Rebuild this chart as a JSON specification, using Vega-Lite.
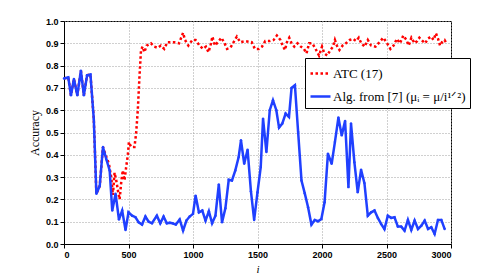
{
  "$schema": "https://vega.github.io/schema/vega-lite/v6.json",
  "width": 387,
  "height": 223,
  "autosize": {"type": "none"},
  "padding": {"left": 64, "top": 21, "right": 47, "bottom": 31},
  "background": "white",
  "config": {
    "view": {"stroke": "black", "strokeWidth": 1},
    "axis": {
      "domainColor": "black",
      "tickSize": 4,
      "tickColor": "black",
      "labelFont": "Liberation Sans",
      "labelFontSize": 9,
      "labelFontWeight": "bold",
      "labelColor": "black",
      "titleFont": "Liberation Serif",
      "titleFontWeight": "normal",
      "titleColor": "black"
    }
  },
  "datasets": {
    "atc": [
      {"i": 0, "acc": 0.742, "series": "ATC (17)"},
      {"i": 33, "acc": 0.747, "series": "ATC (17)"},
      {"i": 54, "acc": 0.667, "series": "ATC (17)"},
      {"i": 77, "acc": 0.74, "series": "ATC (17)"},
      {"i": 103, "acc": 0.667, "series": "ATC (17)"},
      {"i": 131, "acc": 0.777, "series": "ATC (17)"},
      {"i": 154, "acc": 0.667, "series": "ATC (17)"},
      {"i": 179, "acc": 0.757, "series": "ATC (17)"},
      {"i": 205, "acc": 0.76, "series": "ATC (17)"},
      {"i": 231, "acc": 0.56, "series": "ATC (17)"},
      {"i": 251, "acc": 0.225, "series": "ATC (17)"},
      {"i": 277, "acc": 0.26, "series": "ATC (17)"},
      {"i": 302, "acc": 0.435, "series": "ATC (17)"},
      {"i": 328, "acc": 0.39, "series": "ATC (17)"},
      {"i": 348, "acc": 0.36, "series": "ATC (17)"},
      {"i": 366, "acc": 0.3, "series": "ATC (17)"},
      {"i": 379, "acc": 0.22, "series": "ATC (17)"},
      {"i": 392, "acc": 0.32, "series": "ATC (17)"},
      {"i": 405, "acc": 0.285, "series": "ATC (17)"},
      {"i": 418, "acc": 0.24, "series": "ATC (17)"},
      {"i": 431, "acc": 0.2, "series": "ATC (17)"},
      {"i": 444, "acc": 0.28, "series": "ATC (17)"},
      {"i": 456, "acc": 0.33, "series": "ATC (17)"},
      {"i": 469, "acc": 0.285, "series": "ATC (17)"},
      {"i": 482, "acc": 0.345, "series": "ATC (17)"},
      {"i": 495, "acc": 0.4, "series": "ATC (17)"},
      {"i": 503, "acc": 0.457, "series": "ATC (17)"},
      {"i": 520, "acc": 0.435, "series": "ATC (17)"},
      {"i": 546, "acc": 0.435, "series": "ATC (17)"},
      {"i": 559, "acc": 0.495, "series": "ATC (17)"},
      {"i": 572, "acc": 0.6, "series": "ATC (17)"},
      {"i": 585, "acc": 0.75, "series": "ATC (17)"},
      {"i": 597, "acc": 0.87, "series": "ATC (17)"},
      {"i": 610, "acc": 0.885, "series": "ATC (17)"},
      {"i": 623, "acc": 0.86, "series": "ATC (17)"},
      {"i": 641, "acc": 0.89, "series": "ATC (17)"},
      {"i": 674, "acc": 0.9, "series": "ATC (17)"},
      {"i": 700, "acc": 0.885, "series": "ATC (17)"},
      {"i": 726, "acc": 0.88, "series": "ATC (17)"},
      {"i": 751, "acc": 0.89, "series": "ATC (17)"},
      {"i": 777, "acc": 0.875, "series": "ATC (17)"},
      {"i": 802, "acc": 0.905, "series": "ATC (17)"},
      {"i": 854, "acc": 0.905, "series": "ATC (17)"},
      {"i": 892, "acc": 0.9, "series": "ATC (17)"},
      {"i": 905, "acc": 0.92, "series": "ATC (17)"},
      {"i": 923, "acc": 0.947, "series": "ATC (17)"},
      {"i": 938, "acc": 0.915, "series": "ATC (17)"},
      {"i": 964, "acc": 0.89, "series": "ATC (17)"},
      {"i": 995, "acc": 0.915, "series": "ATC (17)"},
      {"i": 1020, "acc": 0.915, "series": "ATC (17)"},
      {"i": 1050, "acc": 0.89, "series": "ATC (17)"},
      {"i": 1077, "acc": 0.875, "series": "ATC (17)"},
      {"i": 1100, "acc": 0.885, "series": "ATC (17)"},
      {"i": 1120, "acc": 0.86, "series": "ATC (17)"},
      {"i": 1140, "acc": 0.9, "series": "ATC (17)"},
      {"i": 1150, "acc": 0.93, "series": "ATC (17)"},
      {"i": 1170, "acc": 0.89, "series": "ATC (17)"},
      {"i": 1200, "acc": 0.91, "series": "ATC (17)"},
      {"i": 1220, "acc": 0.925, "series": "ATC (17)"},
      {"i": 1245, "acc": 0.9, "series": "ATC (17)"},
      {"i": 1264, "acc": 0.875, "series": "ATC (17)"},
      {"i": 1290, "acc": 0.88, "series": "ATC (17)"},
      {"i": 1315, "acc": 0.905, "series": "ATC (17)"},
      {"i": 1340, "acc": 0.93, "series": "ATC (17)"},
      {"i": 1366, "acc": 0.905, "series": "ATC (17)"},
      {"i": 1405, "acc": 0.91, "series": "ATC (17)"},
      {"i": 1455, "acc": 0.905, "series": "ATC (17)"},
      {"i": 1480, "acc": 0.875, "series": "ATC (17)"},
      {"i": 1510, "acc": 0.875, "series": "ATC (17)"},
      {"i": 1535, "acc": 0.885, "series": "ATC (17)"},
      {"i": 1560, "acc": 0.91, "series": "ATC (17)"},
      {"i": 1595, "acc": 0.91, "series": "ATC (17)"},
      {"i": 1625, "acc": 0.915, "series": "ATC (17)"},
      {"i": 1650, "acc": 0.935, "series": "ATC (17)"},
      {"i": 1677, "acc": 0.915, "series": "ATC (17)"},
      {"i": 1695, "acc": 0.89, "series": "ATC (17)"},
      {"i": 1713, "acc": 0.87, "series": "ATC (17)"},
      {"i": 1728, "acc": 0.905, "series": "ATC (17)"},
      {"i": 1746, "acc": 0.925, "series": "ATC (17)"},
      {"i": 1764, "acc": 0.9, "series": "ATC (17)"},
      {"i": 1785, "acc": 0.885, "series": "ATC (17)"},
      {"i": 1810, "acc": 0.9, "series": "ATC (17)"},
      {"i": 1836, "acc": 0.885, "series": "ATC (17)"},
      {"i": 1860, "acc": 0.875, "series": "ATC (17)"},
      {"i": 1880, "acc": 0.855, "series": "ATC (17)"},
      {"i": 1900, "acc": 0.9, "series": "ATC (17)"},
      {"i": 1925, "acc": 0.9, "series": "ATC (17)"},
      {"i": 1950, "acc": 0.875, "series": "ATC (17)"},
      {"i": 1977, "acc": 0.845, "series": "ATC (17)"},
      {"i": 2000, "acc": 0.885, "series": "ATC (17)"},
      {"i": 2018, "acc": 0.855, "series": "ATC (17)"},
      {"i": 2040, "acc": 0.845, "series": "ATC (17)"},
      {"i": 2065, "acc": 0.87, "series": "ATC (17)"},
      {"i": 2085, "acc": 0.885, "series": "ATC (17)"},
      {"i": 2100, "acc": 0.915, "series": "ATC (17)"},
      {"i": 2115, "acc": 0.89, "series": "ATC (17)"},
      {"i": 2135, "acc": 0.87, "series": "ATC (17)"},
      {"i": 2160, "acc": 0.89, "series": "ATC (17)"},
      {"i": 2185, "acc": 0.9, "series": "ATC (17)"},
      {"i": 2215, "acc": 0.915, "series": "ATC (17)"},
      {"i": 2240, "acc": 0.92, "series": "ATC (17)"},
      {"i": 2265, "acc": 0.91, "series": "ATC (17)"},
      {"i": 2285, "acc": 0.925, "series": "ATC (17)"},
      {"i": 2305, "acc": 0.9, "series": "ATC (17)"},
      {"i": 2330, "acc": 0.885, "series": "ATC (17)"},
      {"i": 2355, "acc": 0.915, "series": "ATC (17)"},
      {"i": 2380, "acc": 0.89, "series": "ATC (17)"},
      {"i": 2415, "acc": 0.885, "series": "ATC (17)"},
      {"i": 2445, "acc": 0.905, "series": "ATC (17)"},
      {"i": 2475, "acc": 0.925, "series": "ATC (17)"},
      {"i": 2505, "acc": 0.9, "series": "ATC (17)"},
      {"i": 2530, "acc": 0.875, "series": "ATC (17)"},
      {"i": 2555, "acc": 0.89, "series": "ATC (17)"},
      {"i": 2580, "acc": 0.92, "series": "ATC (17)"},
      {"i": 2605, "acc": 0.9, "series": "ATC (17)"},
      {"i": 2630, "acc": 0.935, "series": "ATC (17)"},
      {"i": 2655, "acc": 0.915, "series": "ATC (17)"},
      {"i": 2672, "acc": 0.89, "series": "ATC (17)"},
      {"i": 2693, "acc": 0.925, "series": "ATC (17)"},
      {"i": 2718, "acc": 0.9, "series": "ATC (17)"},
      {"i": 2738, "acc": 0.91, "series": "ATC (17)"},
      {"i": 2755, "acc": 0.925, "series": "ATC (17)"},
      {"i": 2780, "acc": 0.91, "series": "ATC (17)"},
      {"i": 2800, "acc": 0.9, "series": "ATC (17)"},
      {"i": 2820, "acc": 0.92, "series": "ATC (17)"},
      {"i": 2845, "acc": 0.93, "series": "ATC (17)"},
      {"i": 2865, "acc": 0.915, "series": "ATC (17)"},
      {"i": 2883, "acc": 0.945, "series": "ATC (17)"},
      {"i": 2900, "acc": 0.92, "series": "ATC (17)"},
      {"i": 2915, "acc": 0.89, "series": "ATC (17)"},
      {"i": 2935, "acc": 0.91, "series": "ATC (17)"},
      {"i": 2950, "acc": 0.915, "series": "ATC (17)"},
      {"i": 2965, "acc": 0.9, "series": "ATC (17)"}
    ],
    "alg": [
      {"i": 0, "acc": 0.742, "series": "Alg. from [7] (μᵢ = μ/i¹ᐟ²)"}, {"i": 33, "acc": 0.747, "series": "Alg. from [7] (μᵢ = μ/i¹ᐟ²)"},
      {"i": 54, "acc": 0.667, "series": "Alg. from [7] (μᵢ = μ/i¹ᐟ²)"}, {"i": 77, "acc": 0.74, "series": "Alg. from [7] (μᵢ = μ/i¹ᐟ²)"},
      {"i": 103, "acc": 0.667, "series": "Alg. from [7] (μᵢ = μ/i¹ᐟ²)"}, {"i": 131, "acc": 0.777, "series": "Alg. from [7] (μᵢ = μ/i¹ᐟ²)"},
      {"i": 154, "acc": 0.667, "series": "Alg. from [7] (μᵢ = μ/i¹ᐟ²)"}, {"i": 179, "acc": 0.757, "series": "Alg. from [7] (μᵢ = μ/i¹ᐟ²)"},
      {"i": 205, "acc": 0.76, "series": "Alg. from [7] (μᵢ = μ/i¹ᐟ²)"}, {"i": 231, "acc": 0.56, "series": "Alg. from [7] (μᵢ = μ/i¹ᐟ²)"},
      {"i": 251, "acc": 0.225, "series": "Alg. from [7] (μᵢ = μ/i¹ᐟ²)"}, {"i": 277, "acc": 0.26, "series": "Alg. from [7] (μᵢ = μ/i¹ᐟ²)"},
      {"i": 302, "acc": 0.435, "series": "Alg. from [7] (μᵢ = μ/i¹ᐟ²)"}, {"i": 328, "acc": 0.38, "series": "Alg. from [7] (μᵢ = μ/i¹ᐟ²)"},
      {"i": 354, "acc": 0.33, "series": "Alg. from [7] (μᵢ = μ/i¹ᐟ²)"}, {"i": 374, "acc": 0.15, "series": "Alg. from [7] (μᵢ = μ/i¹ᐟ²)"},
      {"i": 400, "acc": 0.225, "series": "Alg. from [7] (μᵢ = μ/i¹ᐟ²)"}, {"i": 426, "acc": 0.11, "series": "Alg. from [7] (μᵢ = μ/i¹ᐟ²)"},
      {"i": 451, "acc": 0.15, "series": "Alg. from [7] (μᵢ = μ/i¹ᐟ²)"}, {"i": 477, "acc": 0.063, "series": "Alg. from [7] (μᵢ = μ/i¹ᐟ²)"},
      {"i": 500, "acc": 0.142, "series": "Alg. from [7] (μᵢ = μ/i¹ᐟ²)"}, {"i": 528, "acc": 0.127, "series": "Alg. from [7] (μᵢ = μ/i¹ᐟ²)"},
      {"i": 554, "acc": 0.12, "series": "Alg. from [7] (μᵢ = μ/i¹ᐟ²)"}, {"i": 579, "acc": 0.097, "series": "Alg. from [7] (μᵢ = μ/i¹ᐟ²)"},
      {"i": 605, "acc": 0.087, "series": "Alg. from [7] (μᵢ = μ/i¹ᐟ²)"}, {"i": 631, "acc": 0.123, "series": "Alg. from [7] (μᵢ = μ/i¹ᐟ²)"},
      {"i": 656, "acc": 0.1, "series": "Alg. from [7] (μᵢ = μ/i¹ᐟ²)"}, {"i": 682, "acc": 0.093, "series": "Alg. from [7] (μᵢ = μ/i¹ᐟ²)"},
      {"i": 720, "acc": 0.127, "series": "Alg. from [7] (μᵢ = μ/i¹ᐟ²)"}, {"i": 746, "acc": 0.093, "series": "Alg. from [7] (μᵢ = μ/i¹ᐟ²)"},
      {"i": 772, "acc": 0.123, "series": "Alg. from [7] (μᵢ = μ/i¹ᐟ²)"}, {"i": 797, "acc": 0.093, "series": "Alg. from [7] (μᵢ = μ/i¹ᐟ²)"},
      {"i": 820, "acc": 0.095, "series": "Alg. from [7] (μᵢ = μ/i¹ᐟ²)"}, {"i": 841, "acc": 0.093, "series": "Alg. from [7] (μᵢ = μ/i¹ᐟ²)"},
      {"i": 867, "acc": 0.087, "series": "Alg. from [7] (μᵢ = μ/i¹ᐟ²)"}, {"i": 897, "acc": 0.11, "series": "Alg. from [7] (μᵢ = μ/i¹ᐟ²)"},
      {"i": 923, "acc": 0.06, "series": "Alg. from [7] (μᵢ = μ/i¹ᐟ²)"}, {"i": 949, "acc": 0.105, "series": "Alg. from [7] (μᵢ = μ/i¹ᐟ²)"},
      {"i": 974, "acc": 0.123, "series": "Alg. from [7] (μᵢ = μ/i¹ᐟ²)"}, {"i": 1000, "acc": 0.135, "series": "Alg. from [7] (μᵢ = μ/i¹ᐟ²)"},
      {"i": 1020, "acc": 0.217, "series": "Alg. from [7] (μᵢ = μ/i¹ᐟ²)"}, {"i": 1046, "acc": 0.142, "series": "Alg. from [7] (μᵢ = μ/i¹ᐟ²)"},
      {"i": 1072, "acc": 0.15, "series": "Alg. from [7] (μᵢ = μ/i¹ᐟ²)"}, {"i": 1097, "acc": 0.105, "series": "Alg. from [7] (μᵢ = μ/i¹ᐟ²)"},
      {"i": 1123, "acc": 0.147, "series": "Alg. from [7] (μᵢ = μ/i¹ᐟ²)"}, {"i": 1148, "acc": 0.093, "series": "Alg. from [7] (μᵢ = μ/i¹ᐟ²)"},
      {"i": 1174, "acc": 0.127, "series": "Alg. from [7] (μᵢ = μ/i¹ᐟ²)"}, {"i": 1200, "acc": 0.267, "series": "Alg. from [7] (μᵢ = μ/i¹ᐟ²)"},
      {"i": 1225, "acc": 0.097, "series": "Alg. from [7] (μᵢ = μ/i¹ᐟ²)"}, {"i": 1251, "acc": 0.16, "series": "Alg. from [7] (μᵢ = μ/i¹ᐟ²)"},
      {"i": 1277, "acc": 0.288, "series": "Alg. from [7] (μᵢ = μ/i¹ᐟ²)"}, {"i": 1302, "acc": 0.285, "series": "Alg. from [7] (μᵢ = μ/i¹ᐟ²)"},
      {"i": 1328, "acc": 0.33, "series": "Alg. from [7] (μᵢ = μ/i¹ᐟ²)"}, {"i": 1354, "acc": 0.39, "series": "Alg. from [7] (μᵢ = μ/i¹ᐟ²)"},
      {"i": 1372, "acc": 0.465, "series": "Alg. from [7] (μᵢ = μ/i¹ᐟ²)"}, {"i": 1397, "acc": 0.36, "series": "Alg. from [7] (μᵢ = μ/i¹ᐟ²)"},
      {"i": 1423, "acc": 0.423, "series": "Alg. from [7] (μᵢ = μ/i¹ᐟ²)"}, {"i": 1449, "acc": 0.237, "series": "Alg. from [7] (μᵢ = μ/i¹ᐟ²)"},
      {"i": 1474, "acc": 0.108, "series": "Alg. from [7] (μᵢ = μ/i¹ᐟ²)"}, {"i": 1500, "acc": 0.232, "series": "Alg. from [7] (μᵢ = μ/i¹ᐟ²)"},
      {"i": 1525, "acc": 0.345, "series": "Alg. from [7] (μᵢ = μ/i¹ᐟ²)"}, {"i": 1543, "acc": 0.562, "series": "Alg. from [7] (μᵢ = μ/i¹ᐟ²)"},
      {"i": 1569, "acc": 0.412, "series": "Alg. from [7] (μᵢ = μ/i¹ᐟ²)"}, {"i": 1595, "acc": 0.6, "series": "Alg. from [7] (μᵢ = μ/i¹ᐟ²)"},
      {"i": 1620, "acc": 0.645, "series": "Alg. from [7] (μᵢ = μ/i¹ᐟ²)"}, {"i": 1646, "acc": 0.6, "series": "Alg. from [7] (μᵢ = μ/i¹ᐟ²)"},
      {"i": 1667, "acc": 0.522, "series": "Alg. from [7] (μᵢ = μ/i¹ᐟ²)"}, {"i": 1692, "acc": 0.54, "series": "Alg. from [7] (μᵢ = μ/i¹ᐟ²)"},
      {"i": 1718, "acc": 0.585, "series": "Alg. from [7] (μᵢ = μ/i¹ᐟ²)"}, {"i": 1744, "acc": 0.57, "series": "Alg. from [7] (μᵢ = μ/i¹ᐟ²)"},
      {"i": 1764, "acc": 0.7, "series": "Alg. from [7] (μᵢ = μ/i¹ᐟ²)"}, {"i": 1790, "acc": 0.712, "series": "Alg. from [7] (μᵢ = μ/i¹ᐟ²)"},
      {"i": 1815, "acc": 0.502, "series": "Alg. from [7] (μᵢ = μ/i¹ᐟ²)"}, {"i": 1841, "acc": 0.285, "series": "Alg. from [7] (μᵢ = μ/i¹ᐟ²)"},
      {"i": 1866, "acc": 0.228, "series": "Alg. from [7] (μᵢ = μ/i¹ᐟ²)"}, {"i": 1892, "acc": 0.165, "series": "Alg. from [7] (μᵢ = μ/i¹ᐟ²)"},
      {"i": 1918, "acc": 0.087, "series": "Alg. from [7] (μᵢ = μ/i¹ᐟ²)"}, {"i": 1944, "acc": 0.108, "series": "Alg. from [7] (μᵢ = μ/i¹ᐟ²)"},
      {"i": 1969, "acc": 0.102, "series": "Alg. from [7] (μᵢ = μ/i¹ᐟ²)"}, {"i": 1995, "acc": 0.112, "series": "Alg. from [7] (μᵢ = μ/i¹ᐟ²)"},
      {"i": 2020, "acc": 0.187, "series": "Alg. from [7] (μᵢ = μ/i¹ᐟ²)"}, {"i": 2046, "acc": 0.405, "series": "Alg. from [7] (μᵢ = μ/i¹ᐟ²)"},
      {"i": 2075, "acc": 0.36, "series": "Alg. from [7] (μᵢ = μ/i¹ᐟ²)"}, {"i": 2100, "acc": 0.457, "series": "Alg. from [7] (μᵢ = μ/i¹ᐟ²)"},
      {"i": 2127, "acc": 0.567, "series": "Alg. from [7] (μᵢ = μ/i¹ᐟ²)"}, {"i": 2153, "acc": 0.487, "series": "Alg. from [7] (μᵢ = μ/i¹ᐟ²)"},
      {"i": 2179, "acc": 0.552, "series": "Alg. from [7] (μᵢ = μ/i¹ᐟ²)"}, {"i": 2205, "acc": 0.255, "series": "Alg. from [7] (μᵢ = μ/i¹ᐟ²)"},
      {"i": 2225, "acc": 0.54, "series": "Alg. from [7] (μᵢ = μ/i¹ᐟ²)"}, {"i": 2251, "acc": 0.367, "series": "Alg. from [7] (μᵢ = μ/i¹ᐟ²)"},
      {"i": 2277, "acc": 0.232, "series": "Alg. from [7] (μᵢ = μ/i¹ᐟ²)"}, {"i": 2303, "acc": 0.333, "series": "Alg. from [7] (μᵢ = μ/i¹ᐟ²)"},
      {"i": 2329, "acc": 0.273, "series": "Alg. from [7] (μᵢ = μ/i¹ᐟ²)"}, {"i": 2355, "acc": 0.127, "series": "Alg. from [7] (μᵢ = μ/i¹ᐟ²)"},
      {"i": 2381, "acc": 0.142, "series": "Alg. from [7] (μᵢ = μ/i¹ᐟ²)"}, {"i": 2407, "acc": 0.15, "series": "Alg. from [7] (μᵢ = μ/i¹ᐟ²)"},
      {"i": 2433, "acc": 0.117, "series": "Alg. from [7] (μᵢ = μ/i¹ᐟ²)"}, {"i": 2458, "acc": 0.09, "series": "Alg. from [7] (μᵢ = μ/i¹ᐟ²)"},
      {"i": 2484, "acc": 0.067, "series": "Alg. from [7] (μᵢ = μ/i¹ᐟ²)"}, {"i": 2510, "acc": 0.127, "series": "Alg. from [7] (μᵢ = μ/i¹ᐟ²)"},
      {"i": 2536, "acc": 0.117, "series": "Alg. from [7] (μᵢ = μ/i¹ᐟ²)"}, {"i": 2562, "acc": 0.12, "series": "Alg. from [7] (μᵢ = μ/i¹ᐟ²)"},
      {"i": 2588, "acc": 0.078, "series": "Alg. from [7] (μᵢ = μ/i¹ᐟ²)"}, {"i": 2614, "acc": 0.078, "series": "Alg. from [7] (μᵢ = μ/i¹ᐟ²)"},
      {"i": 2640, "acc": 0.06, "series": "Alg. from [7] (μᵢ = μ/i¹ᐟ²)"}, {"i": 2666, "acc": 0.108, "series": "Alg. from [7] (μᵢ = μ/i¹ᐟ²)"},
      {"i": 2692, "acc": 0.063, "series": "Alg. from [7] (μᵢ = μ/i¹ᐟ²)"}, {"i": 2718, "acc": 0.105, "series": "Alg. from [7] (μᵢ = μ/i¹ᐟ²)"},
      {"i": 2744, "acc": 0.067, "series": "Alg. from [7] (μᵢ = μ/i¹ᐟ²)"}, {"i": 2770, "acc": 0.082, "series": "Alg. from [7] (μᵢ = μ/i¹ᐟ²)"},
      {"i": 2796, "acc": 0.105, "series": "Alg. from [7] (μᵢ = μ/i¹ᐟ²)"}, {"i": 2822, "acc": 0.067, "series": "Alg. from [7] (μᵢ = μ/i¹ᐟ²)"},
      {"i": 2847, "acc": 0.075, "series": "Alg. from [7] (μᵢ = μ/i¹ᐟ²)"}, {"i": 2873, "acc": 0.045, "series": "Alg. from [7] (μᵢ = μ/i¹ᐟ²)"},
      {"i": 2899, "acc": 0.108, "series": "Alg. from [7] (μᵢ = μ/i¹ᐟ²)"}, {"i": 2925, "acc": 0.108, "series": "Alg. from [7] (μᵢ = μ/i¹ᐟ²)"},
      {"i": 2951, "acc": 0.067, "series": "Alg. from [7] (μᵢ = μ/i¹ᐟ²)"}
    ]
  },
  "encoding": {
    "x": {
      "field": "i", "type": "quantitative",
      "scale": {"domain": [0, 3000], "nice": false, "zero": false},
      "axis": {"grid": true, "gridColor": "#a0a0a0", "gridDash": [1, 2], "gridWidth": 1, "values": [0, 500, 1000, 1500, 2000, 2500, 3000], "format": "d", "title": "i", "titleFontStyle": "italic", "titleFontSize": 11}
    },
    "y": {
      "field": "acc", "type": "quantitative",
      "scale": {"domain": [0, 1], "nice": false},
      "axis": {"grid": true, "gridColor": "#a0a0a0", "gridDash": [1, 2], "gridWidth": 1, "values": [0, 0.1, 0.2, 0.3, 0.4, 0.5, 0.6, 0.7, 0.8, 0.9, 1], "title": "Accuracy", "titleFontSize": 12}
    },
    "color": {
      "field": "series", "type": "nominal",
      "scale": {"domain": ["ATC (17)", "Alg. from [7] (μᵢ = μ/i¹ᐟ²)"], "range": ["#ff0000", "#2040ff"]},
      "legend": {
        "title": null, "orient": "none", "legendX": 241, "legendY": 37,
        "direction": "vertical",
        "strokeColor": "black", "fillColor": "white", "padding": 4,
        "symbolType": "stroke", "symbolSize": 400, "symbolStrokeWidth": 2.5,
        "labelFont": "Liberation Serif", "labelFontSize": 13, "labelColor": "black",
        "labelOffset": 1, "rowPadding": 4, "labelLimit": 300,
        "encode": {"symbols": {"update": {"strokeDash": {"signal": "datum.value === 'ATC (17)' ? [2.5, 2.5] : [1, 0]"}}}}
      }
    }
  },
  "layer": [
    {
      "data": {"name": "atc"},
      "mark": {"type": "line", "strokeWidth": 2.5, "strokeCap": "butt", "strokeDash": [2.5, 2.5]}
    },
    {
      "data": {"name": "alg"},
      "mark": {"type": "line", "strokeWidth": 2.5, "point": {"size": 6, "filled": true}}
    }
  ]
}
